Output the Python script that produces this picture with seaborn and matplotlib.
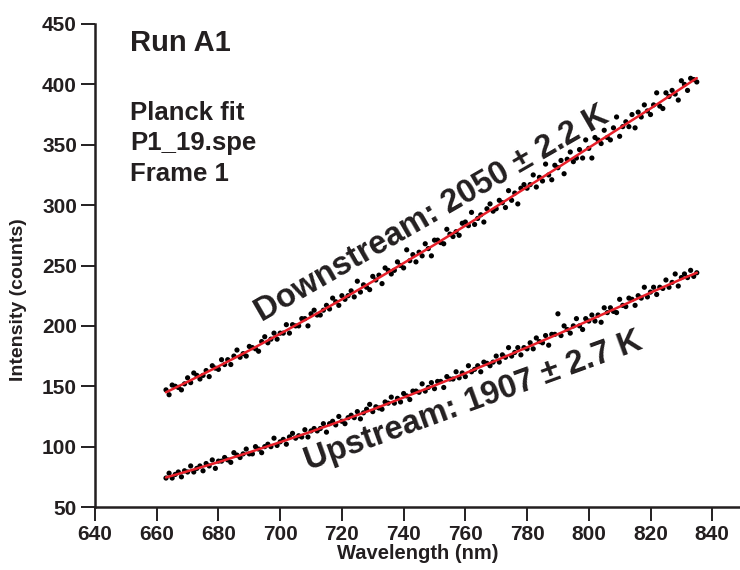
import seaborn as sns
import matplotlib.pyplot as plt
import pandas as pd

# measured spectra, one sample per nm (663-835 nm)
wavelength = list(range(663, 836))

downstream = [
    147, 143, 151, 150, 149, 147, 152, 157,
    153, 161, 159, 156, 159, 163, 158, 167, 165, 164,
    172, 168, 172, 168, 175, 180, 174, 177, 175, 183,
    182, 181, 179, 187, 191, 186, 189, 194, 189, 194,
    194, 201, 194, 201, 200, 200, 206, 206, 200, 210,
    213, 209, 209, 213, 217, 214, 223, 220, 217, 225,
    222, 225, 229, 224, 237, 228, 234, 232, 230, 241,
    238, 242, 235, 248, 246, 243, 246, 253, 250, 248,
    263, 254, 259, 253, 261, 258, 268, 264, 258, 271,
    271, 269, 268, 280, 276, 274, 278, 275, 285, 286,
    283, 294, 284, 289, 292, 286, 297, 301, 295, 297,
    304, 302, 298, 312, 304, 310, 301, 314, 317, 314,
    317, 325, 315, 323, 320, 334, 325, 321, 333, 331,
    337, 326, 338, 344, 336, 339, 346, 339, 354, 347,
    339, 356, 354, 351, 362, 356, 354, 364, 373, 357,
    365, 369, 365, 375, 364, 377, 373, 383, 378, 375,
    383, 393, 382, 380, 393, 390, 395, 392, 387, 403,
    400, 395, 405, 404, 402,
]

upstream = [
    74, 78, 74, 77, 79, 75, 80, 79,
    84, 79, 82, 84, 80, 86, 84, 89, 82, 88,
    88, 91, 89, 87, 95, 93, 91, 94, 98, 94,
    94, 100, 98, 95, 100, 102, 100, 107, 101, 104,
    106, 102, 108, 111, 107, 109, 108, 114, 108, 113,
    115, 113, 115, 119, 112, 119, 121, 118, 125, 121,
    119, 124, 126, 124, 129, 123, 128, 131, 135, 129,
    133, 132, 131, 137, 136, 141, 136, 140, 137, 144,
    142, 139, 146, 146, 145, 152, 146, 149, 153, 148,
    154, 154, 149, 158, 156, 156, 162, 157, 161, 158,
    167, 162, 164, 167, 162, 170, 169, 167, 170, 175,
    170, 176, 174, 182, 175, 178, 182, 176, 182, 181,
    186, 181, 190, 187, 186, 192, 184, 193, 193, 210,
    192, 200, 197, 194, 200, 206, 200, 197, 206, 204,
    209, 204, 209, 203, 215, 211, 215, 212, 211, 222,
    217, 216, 223, 222, 217, 225, 223, 232, 224, 228,
    232, 226, 232, 231, 238, 232, 236, 243, 233, 240,
    243, 240, 246, 241, 244,
]

# Planck fit curves
fit_nm = [663, 670, 680, 690, 700, 710, 720, 730, 740, 750,
          760, 770, 780, 790, 800, 810, 820, 830, 835]
down_fit = [145.0, 153.7, 166.5, 179.7, 193.5, 207.5, 222.0, 236.8, 252.0, 267.2,
            283.0, 298.8, 315.0, 331.1, 347.5, 363.8, 380.0, 396.8, 405.2]
up_fit = [74.5, 79.6, 87.2, 95.3, 103.7, 112.4, 121.5, 130.8, 140.7, 150.6,
          160.8, 171.4, 182.2, 193.2, 204.4, 215.9, 227.5, 238.7, 244.0]

info_lines = ["Planck fit", "P1_19.spe", "Frame 1"]

pts = pd.DataFrame({
    "wl": wavelength * 2,
    "counts": downstream + upstream,
    "run": ["down"] * len(wavelength) + ["up"] * len(wavelength),
})
fits = pd.DataFrame({
    "wl": fit_nm * 2,
    "counts": down_fit + up_fit,
    "run": ["down"] * len(fit_nm) + ["up"] * len(fit_nm),
})

sns.set_style("ticks")
plt.rcParams["font.family"] = ["Liberation Sans", "DejaVu Sans"]
plt.rcParams["font.weight"] = "bold"
ink = "#231f20"

fig = plt.figure(figsize=(7.4, 5.7), dpi=100)
ax = fig.add_axes([0.1284, 0.1105, 0.8716, 0.8474])

sns.scatterplot(data=pts, x="wl", y="counts", hue="run", palette=["black", "black"],
                s=14, linewidth=0, legend=False, ax=ax)
sns.lineplot(data=fits, x="wl", y="counts", units="run", estimator=None,
             color="#e8202a", linewidth=1.8, ax=ax)

ax.set_xlim(640, 849)
ax.set_ylim(50, 450)
ax.set_xticks(range(640, 841, 20))
ax.set_yticks(range(50, 451, 50))
sns.despine(ax=ax)
for s in ["left", "bottom"]:
    ax.spines[s].set_linewidth(1.8)
    ax.spines[s].set_color(ink)
ax.tick_params(length=10, width=1.4, pad=3, labelsize=15, colors=ink)
for lab in ax.get_xticklabels() + ax.get_yticklabels():
    lab.set_fontweight("bold")

ax.set_xlabel("Wavelength (nm)", fontsize=14.5, fontweight="bold", color=ink, labelpad=0)
ax.set_ylabel("Intensity (counts)", fontsize=14, fontweight="bold", color=ink)
ax.yaxis.set_label_coords(-0.105, 0.43)

ax.text(651.4, 427.6, "Run A1", fontsize=21, fontweight="bold", color=ink)
for i, line in enumerate(info_lines):
    ax.text(651.4, 370.5 - 25.2 * i, line, fontsize=18.5, fontweight="bold", color=ink)

ax.text(694.0, 203.2, "Downstream: 2050 \u00b1 2.2 K", fontsize=23.5, fontweight="bold",
        color=ink, rotation=30, rotation_mode="anchor", ha="left", va="baseline")
ax.text(709.1, 80.6, "Upstream: 1907 \u00b1 2.7 K", fontsize=23.5, fontweight="bold",
        color=ink, rotation=20, rotation_mode="anchor", ha="left", va="baseline")

fig.savefig("out.png", dpi=100)
